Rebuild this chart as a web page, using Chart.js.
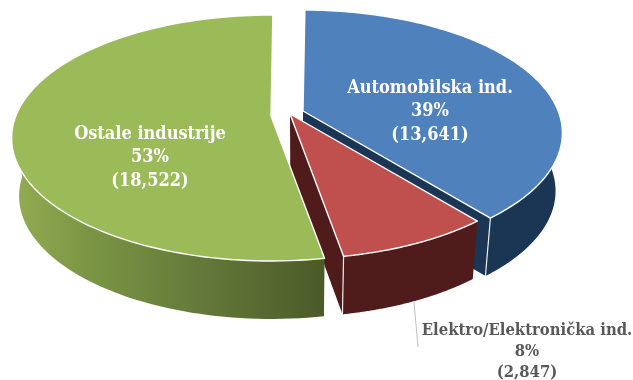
<!DOCTYPE html>
<html>
<head>
<meta charset="utf-8">
<style>
  html, body { margin: 0; padding: 0; background: #fff; }
  #wrap { width: 633px; height: 380px; }
</style>
<script src="https://cdn.jsdelivr.net/npm/chart.js@4/dist/chart.umd.js"></script>
</head>
<body>
<div id="wrap"><canvas id="c" width="633" height="380"></canvas></div>
<script>
// Industry shares
const categories = ['Automobilska ind.', 'Elektro/Elektronička ind.', 'Ostale industrije'];
const values = [13641, 2847, 18522];
const percentLabels = ['39%', '8%', '53%'];
const valueLabels = ['(13,641)', '(2,847)', '(18,522)'];

// Slice appearance
const topColors = ['#4F81BD', '#C0504D', '#9BBB59'];
const sideColors = ['#1B3655', '#4F1C1B', '#4F5E2A'];
const explode = [[32, -5], [19, -2], [0, 0]];
const paintOrder = [0, 1, 2];

// Tilted-disc projection
const SX = 2.2, SY = 1.026, PERSP = 0.179;
const DEPTH = 58, BOTTOM_SCALE = 0.974, VANISH_X = 300;

function project(el, ang, r, shift) {
  const R = el.outerRadius * r;
  const u = Math.cos(ang), v = Math.sin(ang);
  const s = 1 / (1 - PERSP * v * r);
  return { x: el.x + R * SX * u * s + shift[0], y: el.y + R * SY * v * s + shift[1] };
}
const lower = p => ({ x: VANISH_X + (p.x - VANISH_X) * BOTTOM_SCALE, y: p.y + DEPTH });

function rim(el, shift) {
  const pts = [], n = 120;
  for (let i = 0; i <= n; i++) {
    pts.push(project(el, el.startAngle + (el.endAngle - el.startAngle) * i / n, 1, shift));
  }
  return pts;
}
function poly(ctx, pts) {
  ctx.beginPath();
  pts.forEach((p, i) => i ? ctx.lineTo(p.x, p.y) : ctx.moveTo(p.x, p.y));
  ctx.closePath();
}

const pie3d = {
  id: 'pie3d',
  beforeDatasetDraw(chart, args) {
    const ctx = chart.ctx;
    const arcs = args.meta.data;
    ctx.save();
    ctx.lineJoin = 'round';
    paintOrder.forEach(i => {
      const el = arcs[i];
      const shift = explode[i];
      const top = rim(el, shift);
      const apex = project(el, 0, 0, shift);
      const last = top[top.length - 1];

      // Outer wall, front half of the rim only
      let wall = sideColors[i];
      if (i === 2) {
        wall = ctx.createLinearGradient(15, 0, 325, 0);
        wall.addColorStop(0, '#93AB52');
        wall.addColorStop(0.25, '#7A9444');
        wall.addColorStop(0.6, '#64793A');
        wall.addColorStop(1, '#4B5A27');
      }
      const front = top.filter(p => p.y >= apex.y);
      ctx.fillStyle = wall;
      poly(ctx, front.concat(front.map(lower).reverse()));
      ctx.fill();

      // Cut faces that turn toward the viewer
      if (i !== 2) {
        ctx.fillStyle = sideColors[i];
        ctx.strokeStyle = 'rgba(255,255,255,0.9)';
        ctx.lineWidth = 1.2;
        poly(ctx, [apex, last, lower(last), lower(apex)]);
        ctx.fill();
        ctx.beginPath();
        ctx.moveTo(last.x, last.y);
        ctx.lineTo(lower(last).x, lower(last).y);
        ctx.stroke();
      }

      // Top face
      ctx.fillStyle = topColors[i];
      ctx.strokeStyle = '#fff';
      ctx.lineWidth = 1.4;
      poly(ctx, [apex].concat(top));
      ctx.fill();
      ctx.stroke();
    });
    ctx.restore();
    return false;
  },
  afterDraw(chart) {
    const ctx = chart.ctx;
    ctx.save();
    // Leader line of the outside label
    ctx.strokeStyle = '#BFBFBF';
    ctx.lineWidth = 1;
    ctx.beginPath();
    ctx.moveTo(414, 302);
    ctx.lineTo(418, 347);
    ctx.stroke();

    const spots = [
      { x: 430, y: [88, 111, 135], color: '#fff', size: 18 },
      { x: 527, y: [331, 352, 373], color: '#595959', size: 16.5 },
      { x: 150, y: [134, 157, 181], color: '#fff', size: 18 }
    ];
    ctx.textAlign = 'center';
    ctx.textBaseline = 'middle';
    spots.forEach((s, i) => {
      ctx.fillStyle = s.color;
      ctx.font = 'bold ' + s.size + 'px "DejaVu Serif Condensed", "DejaVu Serif"';
      [categories[i], percentLabels[i], valueLabels[i]].forEach((t, k) => ctx.fillText(t, s.x, s.y[k]));
    });
    ctx.restore();
  }
};

new Chart(document.getElementById('c'), {
  type: 'pie',
  data: {
    labels: categories,
    datasets: [{ data: values, backgroundColor: topColors, borderWidth: 0 }]
  },
  options: {
    responsive: false,
    animation: false,
    rotation: 0.5,
    // Places the pie centre where the projection expects it
    layout: { padding: { left: 0, top: 0, right: 91, bottom: 148 } },
    plugins: { legend: { display: false }, tooltip: { enabled: false } }
  },
  plugins: [pie3d]
});
</script>
</body>
</html>
